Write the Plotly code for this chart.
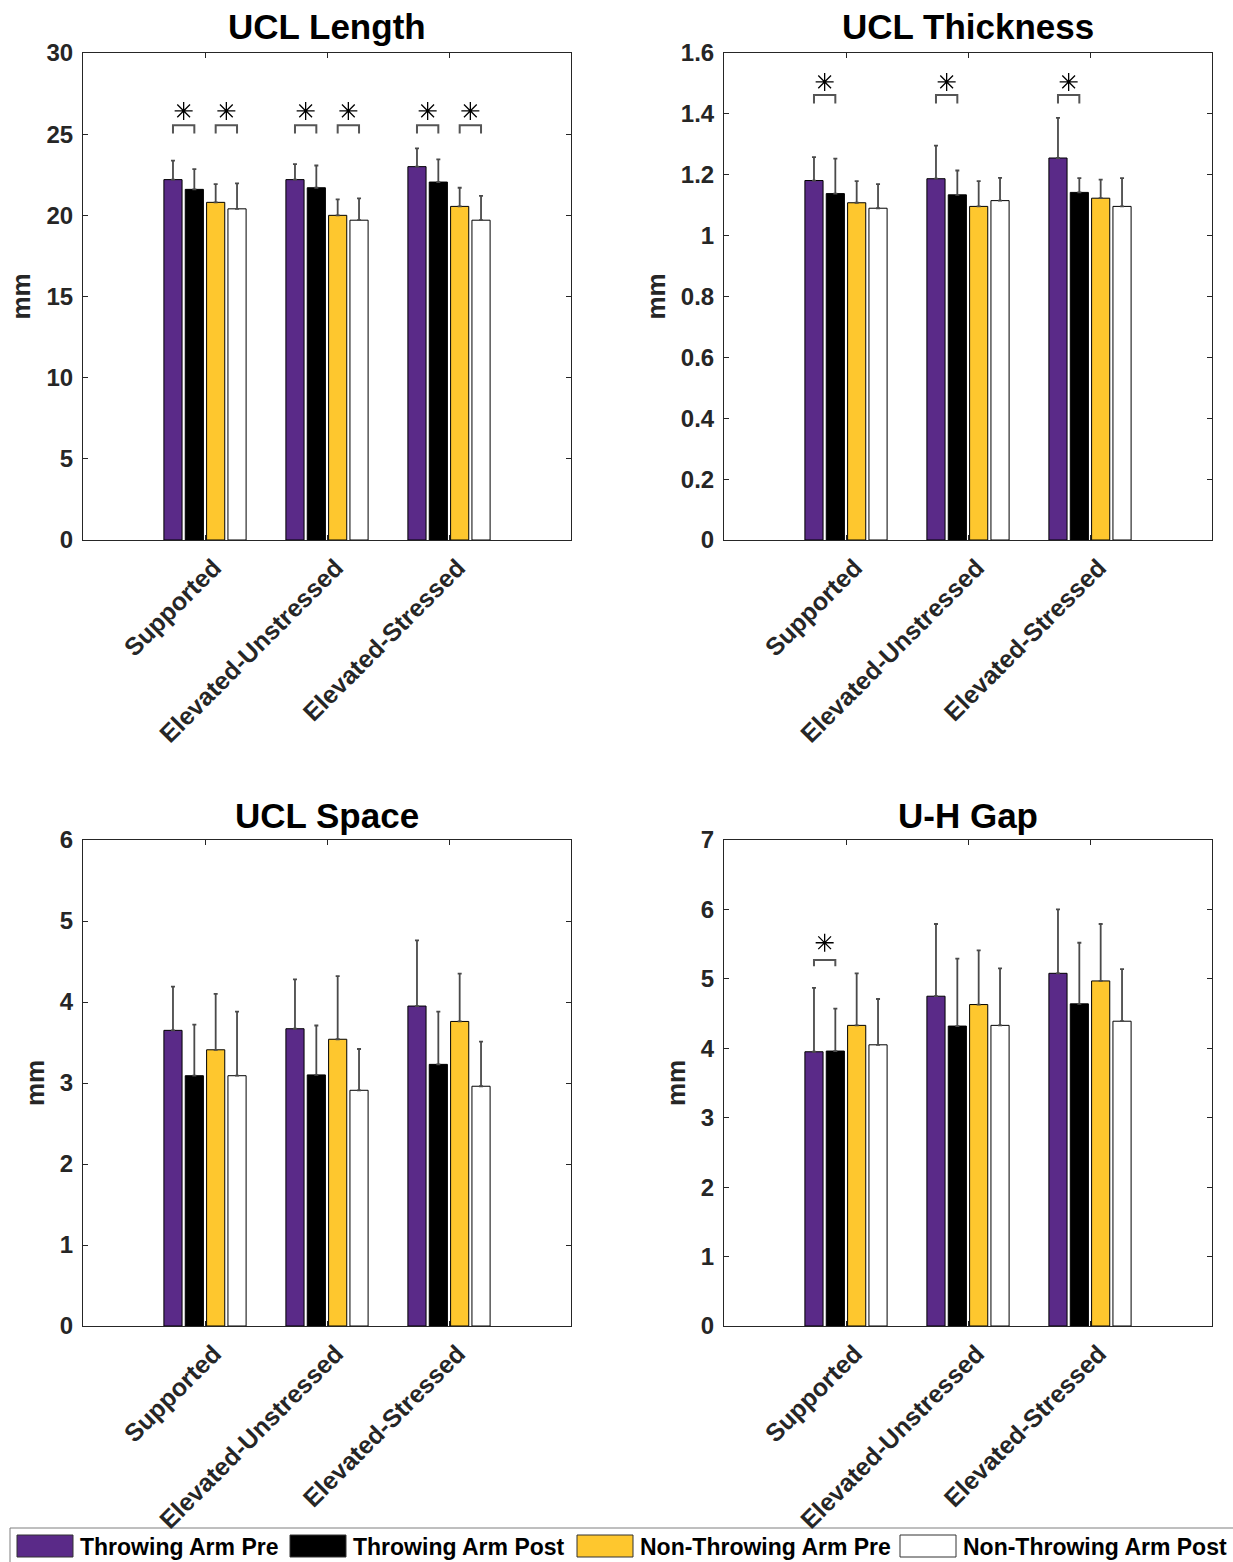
import plotly.graph_objects as go

# ---------------- data ----------------
conditions = ["Supported", "Elevated-Unstressed", "Elevated-Stressed"]
series_names = ["Throwing Arm Pre", "Throwing Arm Post", "Non-Throwing Arm Pre", "Non-Throwing Arm Post"]
series_colors = ["#5a2a88", "#000000", "#fec72e", "#ffffff"]

# UCL Length (mm): mean and SD (upper error) per series, per condition
len_tp = [22.2, 22.2, 23.0]
len_tpo = [21.6, 21.7, 22.05]
len_ntp = [20.8, 20.0, 20.55]
len_ntpo = [20.4, 19.7, 19.7]
len_tp_sd = [1.17, 0.95, 1.12]
len_tpo_sd = [1.25, 1.37, 1.4]
len_ntp_sd = [1.12, 0.98, 1.15]
len_ntpo_sd = [1.57, 1.35, 1.5]

# UCL Thickness (mm)
thk_tp = [1.181, 1.187, 1.255]
thk_tpo = [1.138, 1.134, 1.142]
thk_ntp = [1.108, 1.096, 1.123]
thk_ntpo = [1.090, 1.115, 1.096]
thk_tp_sd = [0.077, 0.109, 0.132]
thk_tpo_sd = [0.115, 0.080, 0.047]
thk_ntp_sd = [0.071, 0.083, 0.061]
thk_ntpo_sd = [0.079, 0.075, 0.093]

# UCL Space (mm)
spc_tp = [3.65, 3.67, 3.95]
spc_tpo = [3.09, 3.10, 3.23]
spc_ntp = [3.41, 3.54, 3.76]
spc_ntpo = [3.09, 2.91, 2.96]
spc_tp_sd = [0.54, 0.61, 0.81]
spc_tpo_sd = [0.63, 0.61, 0.65]
spc_ntp_sd = [0.69, 0.78, 0.59]
spc_ntpo_sd = [0.79, 0.51, 0.55]

# U-H Gap (mm)
gap_tp = [3.95, 4.75, 5.08]
gap_tpo = [3.96, 4.32, 4.64]
gap_ntp = [4.33, 4.63, 4.97]
gap_ntpo = [4.05, 4.33, 4.39]
gap_tp_sd = [0.92, 1.04, 0.92]
gap_tpo_sd = [0.61, 0.97, 0.88]
gap_ntp_sd = [0.75, 0.78, 0.82]
gap_ntpo_sd = [0.66, 0.82, 0.75]

# significance brackets: (condition index, first series index, second series index)
len_sig = [(0, 0, 1), (0, 2, 3), (1, 0, 1), (1, 2, 3), (2, 0, 1), (2, 2, 3)]
thk_sig = [(0, 0, 1), (1, 0, 1), (2, 0, 1)]
spc_sig = []
gap_sig = [(0, 0, 1)]

panels = [
    dict(title="UCL Length", means=[len_tp, len_tpo, len_ntp, len_ntpo],
         sds=[len_tp_sd, len_tpo_sd, len_ntp_sd, len_ntpo_sd],
         yticks=[0, 5, 10, 15, 20, 25, 30], yticktext=["0", "5", "10", "15", "20", "25", "30"],
         yrange=[0, 30], sig=len_sig, br=(25.04, 25.55, 26.43)),
    dict(title="UCL Thickness", means=[thk_tp, thk_tpo, thk_ntp, thk_ntpo],
         sds=[thk_tp_sd, thk_tpo_sd, thk_ntp_sd, thk_ntpo_sd],
         yticks=[0, 0.2, 0.4, 0.6, 0.8, 1.0, 1.2, 1.4, 1.6],
         yticktext=["0", "0.2", "0.4", "0.6", "0.8", "1", "1.2", "1.4", "1.6"],
         yrange=[0, 1.6], sig=thk_sig, br=(1.434, 1.462, 1.505)),
    dict(title="UCL Space", means=[spc_tp, spc_tpo, spc_ntp, spc_ntpo],
         sds=[spc_tp_sd, spc_tpo_sd, spc_ntp_sd, spc_ntpo_sd],
         yticks=[0, 1, 2, 3, 4, 5, 6], yticktext=["0", "1", "2", "3", "4", "5", "6"],
         yrange=[0, 6], sig=spc_sig, br=(0, 0, 0)),
    dict(title="U-H Gap", means=[gap_tp, gap_tpo, gap_ntp, gap_ntpo],
         sds=[gap_tp_sd, gap_tpo_sd, gap_ntp_sd, gap_ntpo_sd],
         yticks=[0, 1, 2, 3, 4, 5, 6, 7], yticktext=["0", "1", "2", "3", "4", "5", "6", "7"],
         yrange=[0, 7], sig=gap_sig, br=(5.18, 5.27, 5.52)),
]

# ---------------- layout geometry ----------------
W, H = 1233, 1562
xdoms = [(83 / W, 571 / W), (724 / W, 1212 / W)]
ydoms = [(1 - 540 / H, 1 - 53 / H), (1 - 1326 / H, 1 - 840 / H)]
title_centers = [27, 815]
FONT = "Liberation Sans, Arial, Helvetica, sans-serif"
AXC = "#262626"
BARGAP = 0.3
NS = len(series_names)
slot = (1 - BARGAP) / NS

fig = go.Figure()
layout = dict(
    width=W, height=H, margin=dict(l=0, r=0, t=0, b=0, autoexpand=False),
    paper_bgcolor="white", plot_bgcolor="white",
    barmode="group", bargap=BARGAP, bargroupgap=0.15,
    showlegend=False, font=dict(family=FONT, color=AXC),
)
annotations = []
shapes = []
xcat = [1, 2, 3]

for p, panel in enumerate(panels):
    row, col = divmod(p, 2)
    sfx = "" if p == 0 else str(p + 1)
    xa, ya = "x" + sfx, "y" + sfx
    for s in range(NS):
        fig.add_trace(go.Bar(
            x=xcat, y=panel["means"][s], name=series_names[s],
            marker=dict(color=series_colors[s], line=dict(color="#000000", width=1)),
            error_y=dict(type="data", symmetric=False, array=panel["sds"][s],
                         arrayminus=[0] * len(xcat), color="#4a4a4a", thickness=1.8, width=2),
            xaxis=xa, yaxis=ya, showlegend=(p == 0), legendgroup=series_names[s],
        ))
    # significance brackets
    yb, yt, ys = panel["br"]
    for (g, a, b) in panel["sig"]:
        xa_c = xcat[g] + (a - (NS - 1) / 2) * slot
        xb_c = xcat[g] + (b - (NS - 1) / 2) * slot
        fig.add_trace(go.Scatter(
            x=[xa_c, xa_c, xb_c, xb_c], y=[yb, yt, yt, yb], mode="lines",
            line=dict(color="#555555", width=2), xaxis=xa, yaxis=ya,
            showlegend=False, hoverinfo="skip"))
        fig.add_trace(go.Scatter(
            x=[(xa_c + xb_c) / 2], y=[ys], mode="markers",
            marker=dict(symbol="asterisk-open", size=15, color="#000000",
                        line=dict(color="#000000", width=1.3)),
            xaxis=xa, yaxis=ya, showlegend=False, hoverinfo="skip"))

    layout["xaxis" + sfx] = dict(
        domain=xdoms[col], anchor=ya, range=[0, 4], tickvals=xcat,
        ticktext=["<b>%s</b>" % c for c in conditions],
        tickangle=-45, ticks="inside", ticklen=5, tickcolor=AXC, showline=True, linecolor=AXC,
        linewidth=1, mirror="ticks", showgrid=False, zeroline=False, ticklabelshift=9,
        ticklabelstandoff=2,
        tickfont=dict(family=FONT, size=25, color=AXC), fixedrange=True)
    layout["yaxis" + sfx] = dict(
        domain=ydoms[row], anchor=xa, range=panel["yrange"], tickvals=panel["yticks"],
        ticktext=["<b>%s</b>" % t for t in panel["yticktext"]], ticks="inside", ticklen=5,
        tickcolor=AXC, showline=True, linecolor=AXC, linewidth=1, mirror="ticks",
        showgrid=False, zeroline=False, tickfont=dict(family=FONT, size=24, color=AXC),
        ticklabelstandoff=4, fixedrange=True)

    # title
    annotations.append(dict(
        text="<b>%s</b>" % panel["title"], xref="paper", yref="paper",
        x=(xdoms[col][0] + xdoms[col][1]) / 2, y=1 - title_centers[row] / H,
        xanchor="center", yanchor="middle", showarrow=False,
        font=dict(family=FONT, size=35, color="#000000")))
    # y label
    ylab_x = [20 / W, 655 / W, 35 / W, 676 / W][p]
    annotations.append(dict(
        text="<b>mm</b>", xref="paper", yref="paper", x=ylab_x,
        y=(ydoms[row][0] + ydoms[row][1]) / 2, textangle=-90, xanchor="center",
        yanchor="middle", showarrow=False, font=dict(family=FONT, size=26, color=AXC)))

# ---------------- legend (drawn) ----------------
shapes.append(dict(type="rect", xref="paper", yref="paper", x0=10 / W, x1=1.01,
                   y0=-0.01, y1=1 - 1528 / H, line=dict(color="#7f7f7f", width=1),
                   fillcolor="white", layer="below"))
leg_sw = [17, 290, 577, 900]
for s in range(NS):
    x0 = leg_sw[s]
    shapes.append(dict(type="rect", xref="paper", yref="paper",
                       x0=x0 / W, x1=(x0 + 56) / W, y0=1 - 1557 / H, y1=1 - 1535 / H,
                       fillcolor=series_colors[s], line=dict(color="#333333", width=1)))
    annotations.append(dict(
        text="<b>%s</b>" % series_names[s], xref="paper", yref="paper",
        x=(x0 + 61) / W, y=1 - 1547 / H, xanchor="left", yanchor="middle",
        showarrow=False, font=dict(family=FONT, size=23, color="#000000")))

layout["annotations"] = annotations
layout["shapes"] = shapes
fig.update_layout(**layout)
fig.write_html("out.html", config={"displayModeBar": False},
               post_script="document.body.style.margin='0';")
